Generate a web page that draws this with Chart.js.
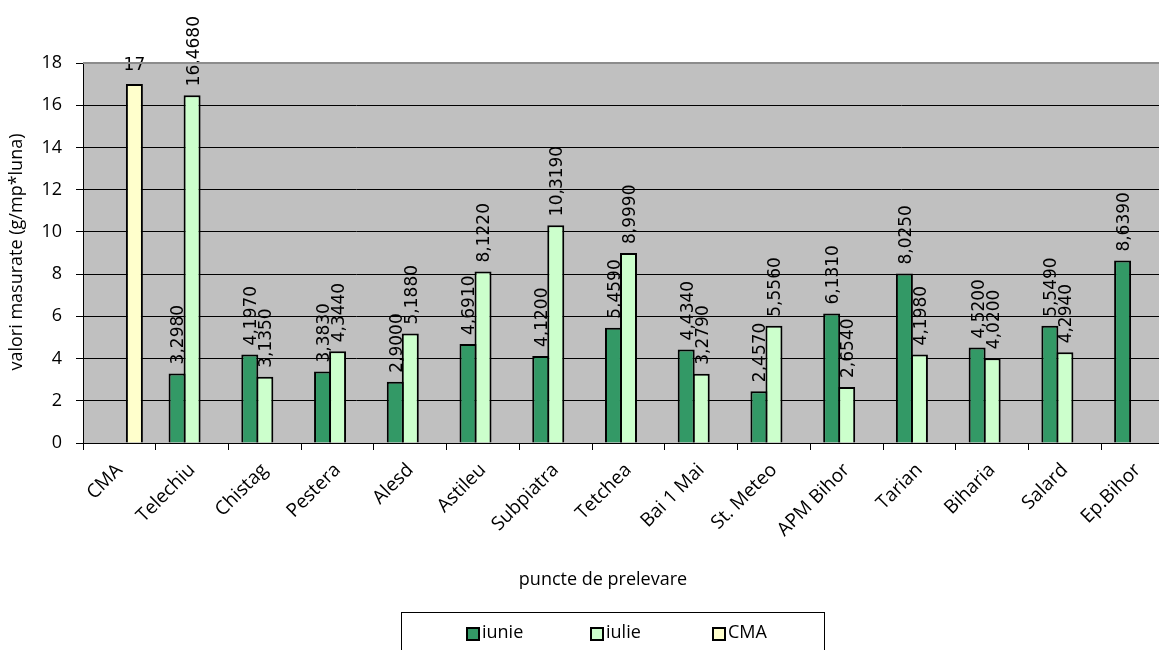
<!DOCTYPE html>
<html>
<head>
<meta charset="utf-8">
<script src="https://cdn.jsdelivr.net/npm/chart.js@4.4.1/dist/chart.umd.min.js"></script>
<style>
  html, body { margin: 0; padding: 0; background: #fff; overflow: hidden; }
  #wrap { width: 1176px; height: 650px; position: relative; }
</style>
</head>
<body>
<div id="wrap"><canvas id="grafic"></canvas></div>
<script>
// puncte de prelevare si valorile masurate
const puncte = ['CMA', 'Telechiu', 'Chistag', 'Pestera', 'Alesd', 'Astileu', 'Subpiatra', 'Tetchea', 'Bai 1 Mai', 'St. Meteo', 'APM Bihor', 'Tarian', 'Biharia', 'Salard', 'Ep.Bihor'];
const iunie = [null, 3.298, 4.197, 3.383, 2.9, 4.691, 4.12, 5.459, 4.434, 2.457, 6.131, 8.025, 4.52, 5.549, 8.639];
const iulie = [null, 16.468, 3.135, 4.344, 5.188, 8.122, 10.319, 8.999, 3.279, 5.556, 2.654, 4.198, 4.02, 4.294, null];
const cma = [17, null, null, null, null, null, null, null, null, null, null, null, null, null, null];
const yMin = 0, yMax = 18, yPas = 2;

const fontText = '"Open Sans", sans-serif';

// fundal gri + bordura de sus, titluri, legenda
const fundal = {
  id: 'fundal',
  beforeDraw(chart) {
    const { ctx, chartArea: a } = chart;
    ctx.save();
    ctx.fillStyle = '#c0c0c0';
    ctx.fillRect(a.left, a.top, a.right - a.left, a.bottom - a.top);
    ctx.restore();
  },
  afterDraw(chart) {
    const { ctx, chartArea: a } = chart;
    ctx.save();
    ctx.strokeStyle = '#8c8c8c';
    ctx.lineWidth = 2;
    ctx.beginPath();
    ctx.moveTo(a.left, a.top);
    ctx.lineTo(a.right, a.top);
    ctx.stroke();

    // titluri axe
    ctx.fillStyle = '#000';
    ctx.textAlign = 'center';
    ctx.textBaseline = 'middle';
    ctx.font = '18px ' + fontText;
    ctx.fillText('puncte de prelevare', 603, 580);
    ctx.translate(17, 252);
    ctx.rotate(-Math.PI / 2);
    ctx.fillText('valori masurate (g/mp*luna)', 0, 0);
    ctx.restore();

    // legenda
    ctx.save();
    ctx.strokeStyle = '#000';
    ctx.lineWidth = 1;
    ctx.strokeRect(401.5, 612.5, 423, 60);
    const xs = [467, 591, 713];
    ctx.font = '18px ' + fontText;
    ctx.textAlign = 'left';
    ctx.textBaseline = 'middle';
    chart.data.datasets.forEach((ds, i) => {
      ctx.fillStyle = ds.backgroundColor;
      ctx.fillRect(xs[i], 628, 12, 12);
      ctx.lineWidth = 2;
      ctx.strokeRect(xs[i], 628, 12, 12);
      ctx.fillStyle = '#000';
      ctx.fillText(ds.label, xs[i] + 15, 633);
    });
    ctx.restore();
  }
};

// etichete valori
const etichete = {
  id: 'etichete',
  afterDatasetsDraw(chart) {
    const { ctx } = chart;
    ctx.save();
    ctx.fillStyle = '#000';
    ctx.font = '17px "DejaVu Sans", sans-serif';
    chart.data.datasets.forEach((ds, i) => {
      const meta = chart.getDatasetMeta(i);
      meta.data.forEach((bar, j) => {
        const v = ds.data[j];
        if (v == null) return;
        const txt = Number.isInteger(v) ? String(v) : v.toFixed(4).replace('.', ',');
        if (ds.vertical) {
          ctx.save();
          ctx.translate(bar.x + 2, bar.y - 9);
          ctx.rotate(-Math.PI / 2);
          ctx.textAlign = 'left';
          ctx.textBaseline = 'middle';
          ctx.fillText(txt, 0, 0);
          ctx.restore();
        } else {
          ctx.textAlign = 'center';
          ctx.textBaseline = 'alphabetic';
          ctx.fillText(txt, bar.x, bar.y - 14);
        }
      });
    });
    ctx.restore();
  }
};

new Chart(document.getElementById('grafic'), {
  type: 'bar',
  data: {
    labels: puncte,
    datasets: [
      { label: 'iunie', data: iunie, backgroundColor: '#339966', vertical: true },
      { label: 'iulie', data: iulie, backgroundColor: '#ccffcc', vertical: true },
      { label: 'CMA', data: cma, backgroundColor: '#ffffcc', vertical: false }
    ]
  },
  options: {
    responsive: true,
    maintainAspectRatio: false,
    animation: false,
    layout: { padding: { top: 63, right: 2, left: 0, bottom: 0 } },
    datasets: {
      bar: {
        categoryPercentage: 0.62,
        barPercentage: 1.13,
        borderColor: '#000',
        borderWidth: 2
      }
    },
    plugins: {
      legend: { display: false },
      tooltip: { enabled: false }
    },
    scales: {
      x: {
        grid: { offset: true, drawOnChartArea: false, drawTicks: true, tickLength: 7, color: '#000' },
        border: { color: '#000', width: 1 },
        ticks: {
          autoSkip: false,
          maxRotation: 45,
          minRotation: 45,
          padding: 9,
          color: '#000',
          font: { family: fontText, size: 19 }
        },
        afterFit(s) { s.height = 207; }
      },
      y: {
        min: yMin,
        max: yMax,
        ticks: {
          stepSize: yPas,
          padding: 14,
          color: '#000',
          font: { family: fontText, size: 18 }
        },
        grid: { color: '#000', lineWidth: 1, tickLength: 7 },
        border: { color: '#000', width: 1 },
        afterFit(s) { s.width = 83; }
      }
    }
  },
  plugins: [fundal, etichete]
});
</script>
</body>
</html>
